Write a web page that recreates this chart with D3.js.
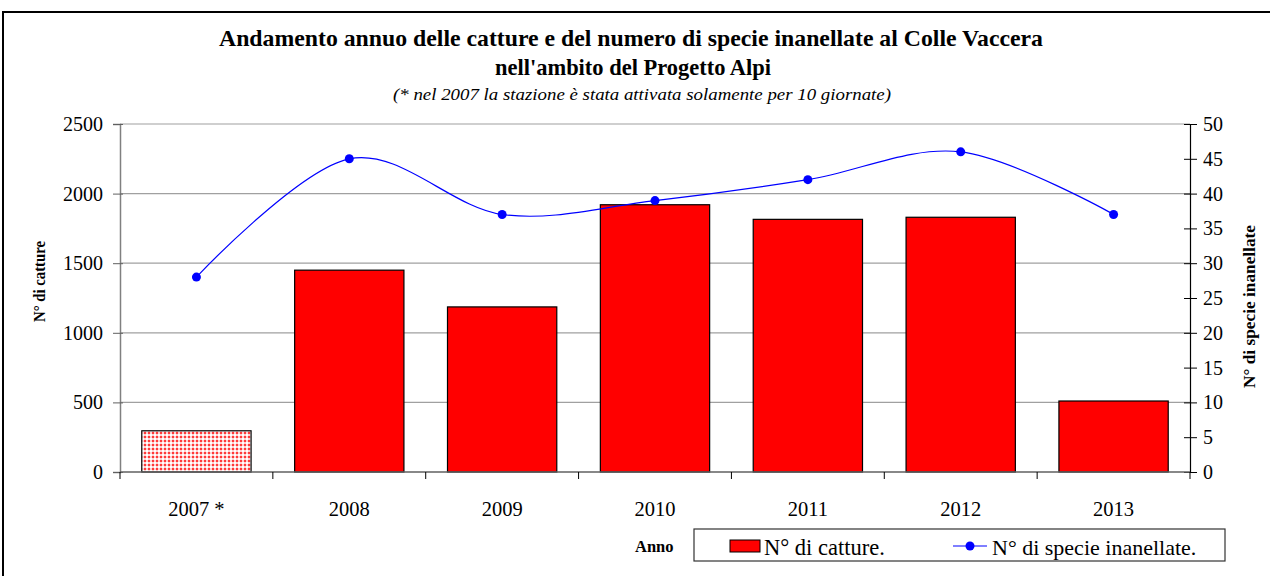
<!DOCTYPE html>
<html><head><meta charset="utf-8">
<script src="https://cdn.jsdelivr.net/npm/d3@7"></script>
<style>body{margin:0;background:#fff}svg{display:block}</style>
</head><body><svg id="c" width="1270" height="576" font-family="Liberation Serif, Times New Roman, serif"></svg>
<script>
const categories = ["2007 *","2008","2009","2010","2011","2012","2013"];
const catture = [296,1450,1186,1920,1815,1830,510];
const specie = [28,45,37,39,42,46,37];
const leftTicks = [0,500,1000,1500,2000,2500];
const rightTicks = [0,5,10,15,20,25,30,35,40,45,50];

const FF = "Liberation Serif, Times New Roman, serif";
const svg = d3.select("#c");
const L = 120, R = 1190, T = 124, B = 472;

// outer border
svg.append("rect").attr("x",3).attr("y",12).attr("width",1290).attr("height",600)
  .attr("fill","none").attr("stroke","#000").attr("stroke-width",2);

const x = d3.scaleBand().domain(categories).range([L,R]).paddingInner(0.285).paddingOuter(0.1425);
const xb = d3.scaleBand().domain(categories).range([L,R]);
const yL = d3.scaleLinear().domain([0,2500]).range([B,T]);
const yR = d3.scaleLinear().domain([0,50]).range([B,T]);

// pattern for 2007
const defs = svg.append("defs");
const p = defs.append("pattern").attr("id","dots").attr("patternUnits","userSpaceOnUse").attr("width",4).attr("height",4);
p.append("rect").attr("width",4).attr("height",4).attr("fill","#ffd0d0");
p.append("rect").attr("x",0).attr("y",0).attr("width",2).attr("height",2).attr("fill","#ff3a3a");
p.append("rect").attr("x",2).attr("y",2).attr("width",2).attr("height",2).attr("fill","#fff");

// gridlines
svg.append("g").selectAll("line").data(leftTicks.slice(1)).join("line")
  .attr("x1",L).attr("x2",R).attr("y1",d=>yL(d)).attr("y2",d=>yL(d))
  .attr("stroke","#a0a0a0").attr("stroke-width",1.2);

// bars
svg.append("g").selectAll("rect").data(catture).join("rect")
  .attr("x",(d,i)=>x(categories[i])).attr("width",x.bandwidth())
  .attr("y",d=>yL(d)).attr("height",d=>yL(0)-yL(d))
  .attr("fill",(d,i)=>i===0?"url(#dots)":"#ff0000")
  .attr("stroke","#000").attr("stroke-width",1.2);

// left axis
const gL = svg.append("g").attr("transform",`translate(${L},0)`)
  .call(d3.axisLeft(yL).tickValues(leftTicks).tickFormat(d3.format("d")).tickSize(7).tickPadding(10));
gL.attr("font-family",FF).attr("font-size",20);
gL.select(".domain").attr("stroke","#808080").attr("stroke-width",1.5);
gL.selectAll(".tick line").attr("stroke","#606060").attr("x2",-7).attr("x1",3);
gL.selectAll("text").attr("fill","#000");

// right axis
const gR = svg.append("g").attr("transform",`translate(${R},0)`)
  .call(d3.axisRight(yR).tickValues(rightTicks).tickFormat(d3.format("d")).tickSize(7).tickPadding(6));
gR.attr("font-family",FF).attr("font-size",20);
gR.select(".domain").attr("stroke","#000").attr("stroke-width",1.2);
gR.selectAll(".tick line").attr("stroke","#000").attr("x1",-6);
gR.selectAll("text").attr("fill","#000");

// x axis
svg.append("line").attr("x1",L).attr("x2",R).attr("y1",B).attr("y2",B).attr("stroke","#606060").attr("stroke-width",1.5);
const bounds = categories.map(c=>xb(c)).concat([R]);
svg.append("g").selectAll("line").data(bounds).join("line")
  .attr("x1",d=>d).attr("x2",d=>d).attr("y1",B).attr("y2",B+7).attr("stroke","#000");
svg.append("g").selectAll("text").data(categories).join("text")
  .attr("x",d=>xb(d)+xb.bandwidth()/2).attr("y",516).attr("text-anchor","middle")
  .attr("font-size",20.5).text(d=>d);

// line
const line = d3.line().x((d,i)=>xb(categories[i])+xb.bandwidth()/2).y(d=>yR(d)).curve(d3.curveCatmullRom.alpha(0));
svg.append("path").datum(specie).attr("d",line).attr("fill","none").attr("stroke","#0000ff").attr("stroke-width",1.2);
svg.append("g").selectAll("circle").data(specie).join("circle")
  .attr("cx",(d,i)=>xb(categories[i])+xb.bandwidth()/2).attr("cy",d=>yR(d)).attr("r",4.5).attr("fill","#0000ff");

// titles
svg.append("text").attr("x",219).attr("y",46).attr("font-size",23.5).attr("font-weight","bold")
  .attr("textLength",824).attr("lengthAdjust","spacingAndGlyphs")
  .text("Andamento annuo delle catture e del numero di specie inanellate al Colle Vaccera");
svg.append("text").attr("x",495).attr("y",75).attr("font-size",23.5).attr("font-weight","bold")
  .attr("textLength",276).attr("lengthAdjust","spacingAndGlyphs")
  .text("nell'ambito del Progetto Alpi");
svg.append("text").attr("x",393).attr("y",100).attr("font-size",17).attr("font-style","italic")
  .attr("textLength",498).attr("lengthAdjust","spacingAndGlyphs")
  .text("(* nel 2007 la stazione è stata attivata solamente per 10 giornate)");

// axis titles
svg.append("text").attr("transform",`translate(45,322) rotate(-90)`)
  .attr("font-size",16).attr("font-weight","bold")
  .attr("textLength",81).attr("lengthAdjust","spacingAndGlyphs").text("N° di catture");
svg.append("text").attr("transform",`translate(1255,388) rotate(-90)`)
  .attr("font-size",17).attr("font-weight","bold")
  .attr("textLength",163).attr("lengthAdjust","spacingAndGlyphs").text("N° di specie inanellate");

// legend
svg.append("text").attr("x",635).attr("y",552).attr("font-size",16.5).attr("font-weight","bold").text("Anno");
svg.append("rect").attr("x",694).attr("y",529).attr("width",531).attr("height",32).attr("fill","#fff").attr("stroke","#333").attr("stroke-width",1.2);
svg.append("rect").attr("x",730).attr("y",540).attr("width",30).attr("height",12).attr("fill","#ff0000").attr("stroke","#000");
svg.append("text").attr("x",764).attr("y",555).attr("font-size",22.5).text("N° di catture.");
svg.append("line").attr("x1",953).attr("x2",987).attr("y1",546).attr("y2",546).attr("stroke","#0000ff").attr("stroke-width",1.2);
svg.append("circle").attr("cx",970).attr("cy",546).attr("r",4.5).attr("fill","#0000ff");
svg.append("text").attr("x",992).attr("y",555).attr("font-size",22).text("N° di specie inanellate.");
</script></body></html>
